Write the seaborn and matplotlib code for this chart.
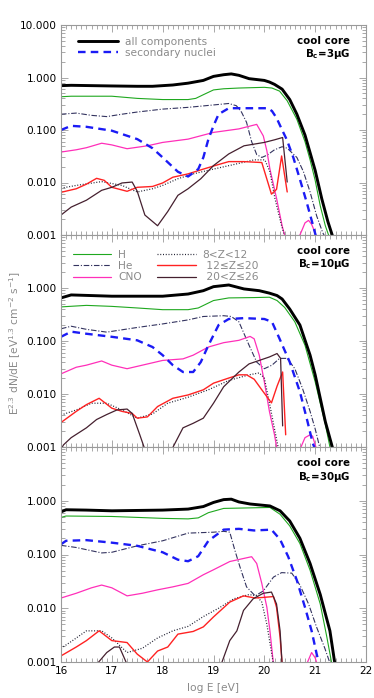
import matplotlib
matplotlib.use("Agg")
import matplotlib.pyplot as plt
import numpy as np
import pandas as pd
import seaborn as sns
from matplotlib.lines import Line2D
from matplotlib.ticker import FixedLocator, FuncFormatter, LogLocator, MultipleLocator

# ---- data: (log E, E^2.3 dN/dE) ---------------------------------------------
# panel 1: B_c = 3 muG
all_3 = [(16.0, 0.70), (16.2, 0.71), (16.6, 0.70), (17.0, 0.69), (17.5, 0.68), (17.8, 0.68),
         (18.2, 0.72), (18.5, 0.78), (18.8, 0.88), (19.0, 1.05), (19.2, 1.13), (19.35, 1.17),
         (19.5, 1.10), (19.7, 0.95), (20.0, 0.88), (20.1, 0.82), (20.2, 0.74), (20.35, 0.60),
         (20.5, 0.38), (20.64, 0.20), (20.8, 0.08), (20.9, 0.037), (21.0, 0.017), (21.13, 0.0049),
         (21.25, 0.0018), (21.35, 0.0009)]
sec_3 = [(16.0, 0.10), (16.2, 0.12), (16.5, 0.115), (17.0, 0.097), (17.5, 0.067), (17.8, 0.045),
         (18.0, 0.03), (18.3, 0.016), (18.5, 0.013), (18.7, 0.018), (18.8, 0.03), (18.9, 0.067),
         (19.0, 0.12), (19.1, 0.2), (19.3, 0.26), (19.6, 0.26), (20.07, 0.26), (20.15, 0.23),
         (20.24, 0.17), (20.35, 0.10), (20.44, 0.066), (20.57, 0.03), (20.7, 0.0115),
         (20.83, 0.0043), (20.96, 0.0015), (21.02, 0.0009)]
H_3 = [(16.0, 0.43), (16.2, 0.44), (17.0, 0.44), (17.5, 0.40), (18.0, 0.38), (18.5, 0.38),
       (18.65, 0.40), (18.8, 0.47), (19.0, 0.58), (19.2, 0.61), (19.5, 0.63), (20.0, 0.65),
       (20.15, 0.63), (20.3, 0.55), (20.45, 0.36), (20.64, 0.16), (20.8, 0.06), (20.9, 0.027),
       (21.0, 0.011), (21.1, 0.0036), (21.2, 0.0015), (21.28, 0.0009)]
He_3 = [(16.0, 0.20), (16.3, 0.21), (16.6, 0.19), (16.9, 0.18), (17.2, 0.20), (17.5, 0.22),
        (18.0, 0.25), (18.5, 0.27), (19.0, 0.30), (19.3, 0.32), (19.45, 0.29), (19.55, 0.22),
        (19.65, 0.14), (19.75, 0.06), (19.85, 0.034), (19.95, 0.030), (20.05, 0.033),
        (20.2, 0.042), (20.35, 0.048), (20.45, 0.045), (20.64, 0.03), (20.77, 0.016),
        (20.9, 0.0066), (21.03, 0.0023), (21.15, 0.0011), (21.2, 0.0009)]
CNO_3 = [(16.0, 0.038), (16.3, 0.042), (16.5, 0.046), (16.8, 0.056), (17.0, 0.052), (17.3, 0.044),
         (17.7, 0.05), (18.0, 0.058), (18.5, 0.067), (19.0, 0.09), (19.5, 0.105), (19.85, 0.128),
         (19.98, 0.077), (20.05, 0.04), (20.11, 0.018), (20.24, 0.005), (20.35, 0.0015),
         (20.41, 0.0009), (20.5, 0.0003), (20.6, 0.0003), (20.68, 0.0009), (20.75, 0.0013),
         (20.8, 0.0017), (20.87, 0.0019), (20.93, 0.0016), (21.0, 0.0011), (21.02, 0.0009)]
mid_3 = [(16.0, 0.0078), (16.3, 0.0088), (16.8, 0.0104), (17.2, 0.0088), (17.5, 0.0066),
         (17.8, 0.0076), (18.0, 0.0088), (18.3, 0.0118), (18.6, 0.0146), (19.0, 0.018),
         (19.4, 0.022), (19.8, 0.027), (20.01, 0.027), (20.11, 0.016), (20.21, 0.0049),
         (20.34, 0.0015), (20.41, 0.0009)]
heavy_3 = [(16.0, 0.0065), (16.3, 0.0076), (16.5, 0.0093), (16.7, 0.012), (16.85, 0.011),
           (17.0, 0.0081), (17.3, 0.0068), (17.5, 0.0081), (17.8, 0.0084), (18.0, 0.0098),
           (18.2, 0.0126), (18.5, 0.0146), (18.8, 0.018), (19.1, 0.022), (19.3, 0.025),
           (19.6, 0.025), (19.95, 0.024), (20.14, 0.006), (20.24, 0.0074), (20.34, 0.032),
           (20.45, 0.0066)]
Fe_3 = [(16.0, 0.0024), (16.2, 0.0034), (16.5, 0.0046), (16.8, 0.0071), (17.0, 0.0081),
        (17.2, 0.0098), (17.4, 0.0102), (17.5, 0.0068), (17.65, 0.0024), (17.9, 0.0015),
        (18.1, 0.0028), (18.3, 0.0057), (18.5, 0.0076), (18.75, 0.0118), (19.0, 0.021),
        (19.3, 0.035), (19.6, 0.05), (20.0, 0.058), (20.2, 0.065), (20.36, 0.072), (20.45, 0.0102)]

# panel 2: B_c = 10 muG
all_10 = [(16.0, 0.65), (16.2, 0.74), (16.6, 0.72), (17.0, 0.70), (17.5, 0.70), (18.0, 0.70),
          (18.5, 0.77), (18.8, 0.89), (19.0, 1.06), (19.3, 1.14), (19.6, 0.96), (19.9, 0.89),
          (20.1, 0.80), (20.25, 0.72), (20.35, 0.62), (20.5, 0.40), (20.7, 0.20), (20.9, 0.054),
          (21.0, 0.023), (21.1, 0.0083), (21.2, 0.003), (21.35, 0.0009)]
sec_10 = [(16.0, 0.12), (16.2, 0.15), (16.5, 0.137), (17.0, 0.12), (17.5, 0.103), (17.8, 0.077),
          (18.0, 0.054), (18.2, 0.035), (18.4, 0.026), (18.6, 0.026), (18.75, 0.04), (18.9, 0.083),
          (19.1, 0.2), (19.3, 0.26), (19.6, 0.27), (20.0, 0.26), (20.15, 0.23), (20.3, 0.11),
          (20.5, 0.04), (20.7, 0.011), (20.85, 0.003), (20.95, 0.0012), (21.0, 0.0009)]
H_10 = [(16.0, 0.44), (16.5, 0.47), (17.0, 0.45), (17.5, 0.42), (18.0, 0.39), (18.5, 0.39),
        (18.7, 0.42), (19.0, 0.58), (19.3, 0.65), (19.8, 0.66), (20.1, 0.67), (20.25, 0.58),
        (20.4, 0.43), (20.6, 0.23), (20.8, 0.083), (21.0, 0.017), (21.1, 0.0067), (21.2, 0.0027),
        (21.3, 0.0009)]
He_10 = [(16.0, 0.17), (16.2, 0.19), (16.5, 0.166), (16.9, 0.147), (17.5, 0.18), (18.0, 0.21),
         (18.5, 0.25), (18.8, 0.29), (19.2, 0.30), (19.35, 0.29), (19.5, 0.23), (19.7, 0.083),
         (19.85, 0.04), (20.0, 0.03), (20.15, 0.035), (20.3, 0.047), (20.45, 0.047), (20.6, 0.03),
         (20.75, 0.0128), (20.9, 0.0047), (21.0, 0.0022), (21.1, 0.0009)]
CNO_10 = [(16.0, 0.024), (16.3, 0.032), (16.5, 0.035), (16.8, 0.042), (17.0, 0.035), (17.3, 0.03),
          (17.6, 0.035), (18.0, 0.043), (18.4, 0.046), (18.6, 0.054), (18.9, 0.077), (19.2, 0.093),
          (19.5, 0.103), (19.72, 0.122), (19.8, 0.11), (19.9, 0.054), (20.0, 0.017), (20.1, 0.0047),
          (20.2, 0.0017), (20.25, 0.0009), (20.45, 0.0003), (20.6, 0.0003), (20.7, 0.0009),
          (20.8, 0.0015), (20.9, 0.0017), (20.95, 0.0016), (21.0, 0.0011), (21.03, 0.0009)]
mid_10 = [(16.0, 0.0040), (16.3, 0.005), (16.6, 0.0067), (16.9, 0.0067), (17.2, 0.005),
          (17.5, 0.0035), (17.8, 0.0042), (18.1, 0.0067), (18.5, 0.0087), (18.9, 0.012),
          (19.3, 0.018), (19.7, 0.023), (19.9, 0.025), (20.0, 0.02), (20.1, 0.0068),
          (20.2, 0.0022), (20.28, 0.0009)]
heavy_10 = [(16.0, 0.0029), (16.3, 0.0047), (16.5, 0.0063), (16.75, 0.0083), (17.0, 0.0054),
            (17.2, 0.0047), (17.4, 0.0043), (17.5, 0.0035), (17.7, 0.0037), (17.9, 0.0058),
            (18.2, 0.0083), (18.5, 0.0096), (18.8, 0.012), (19.0, 0.016), (19.3, 0.02),
            (19.5, 0.023), (19.65, 0.023), (19.8, 0.019), (19.95, 0.012), (20.14, 0.0068),
            (20.25, 0.014), (20.36, 0.026), (20.42, 0.0017)]
Fe_10 = [(16.0, 0.0009), (16.05, 0.0011), (16.2, 0.0015), (16.5, 0.0023), (16.7, 0.0033),
         (16.9, 0.0041), (17.1, 0.005), (17.3, 0.0052), (17.4, 0.0043), (17.55, 0.0017),
         (17.65, 0.0009), (17.9, 0.0003), (18.05, 0.0003), (18.18, 0.0009), (18.4, 0.0023),
         (18.6, 0.0028), (18.8, 0.0035), (19.0, 0.0067), (19.2, 0.0137), (19.5, 0.026),
         (19.7, 0.037), (19.9, 0.043), (20.1, 0.05), (20.25, 0.058), (20.32, 0.047), (20.36, 0.0025)]

# panel 3: B_c = 30 muG
all_30 = [(16.0, 0.62), (16.1, 0.68), (16.5, 0.67), (17.0, 0.65), (17.5, 0.66), (18.0, 0.67),
          (18.5, 0.70), (18.8, 0.78), (19.0, 0.93), (19.2, 1.05), (19.35, 1.07), (19.5, 0.95),
          (19.72, 0.87), (20.11, 0.80), (20.31, 0.65), (20.5, 0.42), (20.7, 0.20), (20.9, 0.068),
          (21.1, 0.018), (21.29, 0.0038), (21.39, 0.0009)]
sec_30 = [(16.0, 0.155), (16.1, 0.18), (16.5, 0.185), (17.0, 0.166), (17.5, 0.145), (18.0, 0.11),
          (18.3, 0.08), (18.5, 0.075), (18.7, 0.093), (18.9, 0.18), (19.2, 0.29), (19.5, 0.30),
          (19.8, 0.28), (20.14, 0.29), (20.31, 0.19), (20.47, 0.091), (20.64, 0.033),
          (20.8, 0.0104), (20.93, 0.0038), (21.03, 0.0014), (21.08, 0.0009)]
H_30 = [(16.0, 0.49), (16.1, 0.52), (17.0, 0.51), (17.5, 0.49), (18.0, 0.47), (18.5, 0.46),
        (18.7, 0.48), (18.9, 0.60), (19.2, 0.72), (20.11, 0.75), (20.31, 0.56), (20.5, 0.34),
        (20.7, 0.16), (20.9, 0.051), (21.1, 0.012), (21.23, 0.0029), (21.33, 0.0009)]
He_30 = [(16.0, 0.148), (16.3, 0.135), (16.8, 0.107), (17.0, 0.11), (17.5, 0.145), (18.0, 0.18),
         (18.5, 0.25), (19.0, 0.26), (19.2, 0.27), (19.32, 0.26), (19.42, 0.12), (19.52, 0.059),
         (19.65, 0.025), (19.82, 0.017), (19.98, 0.021), (20.18, 0.038), (20.34, 0.046),
         (20.54, 0.045), (20.7, 0.027), (20.87, 0.012), (21.03, 0.0044), (21.19, 0.0018),
         (21.3, 0.0009)]
CNO_30 = [(16.0, 0.0155), (16.3, 0.019), (16.6, 0.024), (16.8, 0.027), (17.0, 0.024), (17.3, 0.017),
          (17.6, 0.019), (17.9, 0.022), (18.2, 0.025), (18.5, 0.029), (18.8, 0.042), (19.0, 0.052),
          (19.32, 0.074), (19.75, 0.091), (19.85, 0.068), (19.95, 0.029), (20.05, 0.0104),
          (20.11, 0.0038), (20.18, 0.0009), (20.4, 0.0003), (20.7, 0.0003), (20.83, 0.0009),
          (20.93, 0.0015), (21.0, 0.0012), (21.04, 0.0009)]
mid_30 = [(16.0, 0.0018), (16.2, 0.0024), (16.5, 0.0038), (16.8, 0.0038), (17.0, 0.0028),
          (17.3, 0.0015), (17.6, 0.0018), (17.9, 0.0028), (18.2, 0.0038), (18.5, 0.0046),
          (18.8, 0.007), (19.1, 0.010), (19.4, 0.015), (19.7, 0.018), (19.85, 0.017),
          (19.95, 0.013), (20.05, 0.005), (20.12, 0.002), (20.18, 0.0009)]
heavy_30 = [(16.0, 0.0013), (16.3, 0.0019), (16.5, 0.0025), (16.75, 0.0038), (17.0, 0.0025),
            (17.3, 0.0023), (17.5, 0.0014), (17.7, 0.001), (17.9, 0.0016), (18.1, 0.0019),
            (18.3, 0.0033), (18.6, 0.0037), (18.8, 0.0045), (19.0, 0.0069), (19.32, 0.013),
            (19.59, 0.017), (19.82, 0.0155), (20.01, 0.016), (20.18, 0.0165), (20.24, 0.0104),
            (20.31, 0.0029), (20.35, 0.0009)]
Fe_30 = [(16.7, 0.0009), (16.9, 0.0015), (17.05, 0.0019), (17.15, 0.0019), (17.3, 0.0009),
         (17.6, 0.0003), (18.9, 0.0003), (19.15, 0.0009), (19.32, 0.0025), (19.46, 0.0038),
         (19.59, 0.0091), (19.78, 0.015), (19.98, 0.019), (20.14, 0.020), (20.24, 0.012),
         (20.31, 0.0038), (20.35, 0.0009)]

field_labels = ["3", "10", "30"]
y_ticks = [0.001, 0.01, 0.1, 1.0, 10.0]
x_ticks = [16, 17, 18, 19, 20, 21, 22]

GRAY = "#8a8a8a"
FRAME = "#9a9a9a"
styles = {
    # name: (label, color, linewidth, linestyle)
    "all": ("all components", "black", 2.1, "-"),
    "sec": ("secondary nuclei", "#1b1bf5", 1.7, (0, (3.2, 2.2))),
    "H": ("H", "#1fa81f", 0.8, "-"),
    "He": ("He", "#33335f", 0.8, (0, (5, 1.6, 1, 1.6))),
    "CNO": ("CNO", "#ff2fb9", 0.9, "-"),
    "mid": ("8<Z<12", "#222233", 0.9, (0, (0.8, 1.4))),
    "heavy": (" 12≤Z≤20", "#ff2222", 1.0, "-"),
    "Fe": (" 20<Z≤26", "#45202f", 0.9, "-"),
}
panels = [
    {"all": all_3, "H": H_3, "He": He_3, "CNO": CNO_3, "mid": mid_3, "heavy": heavy_3, "Fe": Fe_3, "sec": sec_3},
    {"all": all_10, "H": H_10, "He": He_10, "CNO": CNO_10, "mid": mid_10, "heavy": heavy_10, "Fe": Fe_10, "sec": sec_10},
    {"all": all_30, "H": H_30, "He": He_30, "CNO": CNO_30, "mid": mid_30, "heavy": heavy_30, "Fe": Fe_30, "sec": sec_30},
]
draw_order = ["H", "He", "CNO", "mid", "heavy", "Fe", "sec", "all"]

sns.set_style("ticks")
plt.rcParams["font.family"] = ["DejaVu Sans"]
plt.rcParams["mathtext.fontset"] = "dejavusans"

fig = plt.figure(figsize=(3.74, 6.98), dpi=100)
W, H = 374.0, 698.0
left, right = 61 / W, 366 / W
edges = [25, 235, 447, 662]

axes = []
for i, curves in enumerate(panels):
    top, bot = edges[i], edges[i + 1]
    ax = fig.add_axes([left, 1 - bot / H, right - left, (bot - top) / H])
    axes.append(ax)
    for name in draw_order:
        lab, col, lw, ls = styles[name]
        df = pd.DataFrame(curves[name], columns=["logE", "flux"])
        sns.lineplot(data=df, x="logE", y="flux", ax=ax, color=col, lw=lw,
                     linestyle=ls, sort=False, estimator=None, legend=False)
    ax.set_yscale("log")
    ax.set_xlim(16, 22)
    ax.set_ylim(0.001, 10)
    ax.set_xlabel("")
    ax.set_ylabel("")

    ax.yaxis.set_major_locator(FixedLocator(y_ticks))
    ax.yaxis.set_minor_locator(LogLocator(base=10, subs=np.arange(2, 10)))
    skip_top = i > 0
    ax.yaxis.set_major_formatter(FuncFormatter(
        lambda v, p, s=skip_top: "" if (s and v > 5) else f"{v:.3f}"))
    ax.yaxis.set_minor_formatter(FuncFormatter(lambda v, p: ""))
    ax.xaxis.set_major_locator(FixedLocator(x_ticks))
    ax.xaxis.set_minor_locator(MultipleLocator(0.1))
    ax.tick_params(which="both", direction="in", top=True, right=True,
                   color=FRAME, width=0.6, labelsize=7.6, labelcolor="black", pad=3)
    ax.tick_params(which="major", length=5)
    ax.tick_params(which="minor", length=2.6)
    if i < 2:
        ax.tick_params(axis="x", labelbottom=False)
    for sp in ax.spines.values():
        sp.set_color(FRAME)
        sp.set_linewidth(0.8)

    ax.text(0.948, 0.925, "cool core", transform=ax.transAxes, ha="right", va="center",
            fontsize=7.4, fontweight="bold", color="black")
    ax.text(0.948, 0.862, "B$_\\mathbf{c}$=" + field_labels[i] + "$\\mathbf{\\mu}$G",
            transform=ax.transAxes, ha="right", va="center", fontsize=7.4,
            fontweight="bold", color="black")


def handle(name):
    lab, col, lw, ls = styles[name]
    return Line2D([], [], color=col, lw=lw, linestyle=ls, label=lab)


leg1 = axes[0].legend(handles=[handle("all"), handle("sec")], loc="upper left",
                      bbox_to_anchor=(0.056, 0.945), frameon=False, fontsize=7.7,
                      labelcolor=GRAY, handlelength=3.7, handletextpad=0.65,
                      labelspacing=0.1, borderpad=0, borderaxespad=0)
leg2 = axes[1].legend(handles=[handle(n) for n in ["H", "He", "CNO", "mid", "heavy", "Fe"]],
                      ncol=2, loc="upper left", bbox_to_anchor=(0.039, 0.93),
                      frameon=False, fontsize=7.7, labelcolor=GRAY, handlelength=3.6,
                      handletextpad=0.65, labelspacing=0.12, columnspacing=1.4,
                      borderpad=0, borderaxespad=0)

fig.text(15 / W, 1 - 343 / H,
         "E$^{2.3}$ dN/dE [eV$^{1.3}$ cm$^{-2}$ s$^{-1}$]",
         rotation=90, ha="center", va="center", fontsize=7.7, color=GRAY)
fig.text(213 / W, 1 - 688 / H, "log E [eV]", ha="center", va="center",
         fontsize=7.7, color=GRAY)

fig.savefig("out.png", dpi=100)
